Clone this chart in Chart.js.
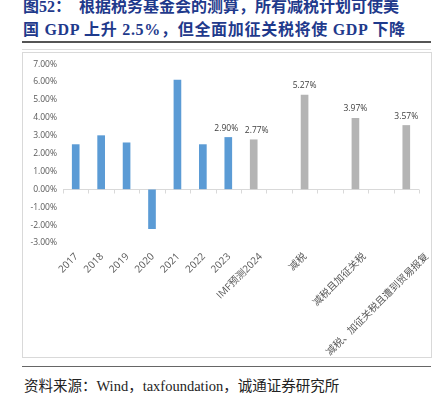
<!DOCTYPE html>
<html>
<head>
<meta charset="utf-8">
<script src="https://cdn.jsdelivr.net/npm/chart.js@4.4.1/dist/chart.umd.min.js"></script>
<style>
  html, body { margin: 0; padding: 0; background: #ffffff; }
  body { width: 443px; height: 393px; position: relative; overflow: hidden; }
  .title { position: absolute; left: 23px; font-family: "Liberation Serif", "Noto Sans CJK SC", serif; font-weight: bold; font-size: 16px; color: #1f3a8c; white-space: nowrap; }
  .line { position: absolute; left: 22px; width: 409px; }
  #box { position: absolute; left: 22px; top: 52px; width: 408px; height: 304px; border: 1px solid #d9d9d9; }
  .source { position: absolute; left: 24px; top: 374px; font-family: "Liberation Serif", "Noto Sans CJK SC", serif; font-size: 14.5px; color: #222; white-space: nowrap; }
</style>
</head>
<body>
<div class="title" style="top:-7px;">图52：&nbsp;&nbsp;根据税务基金会的测算，所有减税计划可使美</div>
<div class="title" style="top:16px;letter-spacing:0.7px;">国 GDP 上升 2.5%，但全面加征关税将使 GDP 下降</div>
<div class="line" style="top:41px;height:2px;background:#555;"></div>
<div class="line" style="top:49px;height:1px;background:#ddd;"></div>
<div id="box"><canvas id="c" width="408" height="304"></canvas></div>
<div class="line" style="top:366px;height:1px;background:#666;"></div>
<div class="source">资料来源：Wind，taxfoundation，诚通证券研究所</div>
<script>
const categories = ['2017','2018','2019','2020','2021','2022','2023','IMF预测2024','','减税','','减税且加征关税','','减税、加征关税且遭到贸易报复'];
const actualValues = [2.5, 3.0, 2.6, -2.2, 6.1, 2.5, 2.9, null, null, null, null, null, null, null];
const forecastValues = [null, null, null, null, null, null, null, 2.77, null, 5.27, null, 3.97, null, 3.57];
const labelledIndexes = [6, 7, 9, 11, 13];
const yTicks = { min: -3, max: 7, step: 1 };

const zeroTicks = {
  id: 'zeroTicks',
  afterDatasetsDraw(chart) {
    const ctx = chart.ctx, x = chart.scales.x, y = chart.scales.y;
    const y0 = Math.round(y.getPixelForValue(0)) + 0.5;
    ctx.save();
    ctx.strokeStyle = '#d9d9d9';
    ctx.lineWidth = 1;
    const n = categories.length;
    const w = (x.right - x.left) / n;
    ctx.beginPath();
    for (let i = 0; i <= n; i++) {
      const px = Math.round(x.left + i * w) + 0.5;
      ctx.moveTo(px, y0);
      ctx.lineTo(px, y0 + 4);
    }
    ctx.stroke();
    ctx.restore();
  }
};

// rotated category labels, drawn at the x scale's tick positions
const slantedLabels = {
  id: 'slantedLabels',
  afterDraw(chart) {
    const ctx = chart.ctx, x = chart.scales.x;
    ctx.save();
    ctx.font = '10px "Open Sans", "Noto Sans CJK SC", sans-serif';
    ctx.fillStyle = '#595959';
    ctx.textAlign = 'right';
    ctx.textBaseline = 'middle';
    categories.forEach((lab, i) => {
      if (!lab) return;
      const w = ctx.measureText(lab).width;
      const dx = Math.max(0, 0.17 * w - 3);
      const px = x.getPixelForValue(i) + dx;
      ctx.save();
      ctx.translate(px, x.top + 12);
      ctx.rotate(-Math.PI / 4);
      ctx.fillText(lab, 0, 0);
      ctx.restore();
    });
    ctx.restore();
  }
};

const valueLabels = {
  id: 'valueLabels',
  afterDatasetsDraw(chart) {
    const ctx = chart.ctx;
    ctx.save();
    ctx.font = '8.5px "Open Sans", "Noto Sans", sans-serif';
    ctx.fillStyle = '#404040';
    ctx.textAlign = 'center';
    ctx.textBaseline = 'bottom';
    chart.data.datasets.forEach((ds, di) => {
      const meta = chart.getDatasetMeta(di);
      labelledIndexes.forEach(i => {
        const v = ds.data[i];
        if (v === null || v === undefined) return;
        const el = meta.data[i];
        ctx.fillText(v.toFixed(2) + '%', el.x + (i === 7 ? 3 : (i === 6 ? -2 : 0)), el.y - 5);
      });
    });
    ctx.restore();
  }
};

new Chart(document.getElementById('c'), {
  type: 'bar',
  data: {
    labels: categories,
    datasets: [
      { data: actualValues, backgroundColor: '#5b9bd5', barThickness: 7, grouped: false },
      { data: forecastValues, backgroundColor: '#b4b4b4', barThickness: 7, grouped: false }
    ]
  },
  options: {
    responsive: false,
    animation: false,
    layout: { padding: { top: 4, right: 12, left: 0, bottom: 0 } },
    plugins: { legend: { display: false }, tooltip: { enabled: false } },
    scales: {
      x: {
        grid: { display: false, drawTicks: false },
        border: { display: false },
        ticks: { display: false },
        afterFit(scale) { scale.height = 114; }
      },
      y: {
        min: yTicks.min, max: yTicks.max,
        border: { display: false },
        grid: {
          drawTicks: false,
          color: ctx => (ctx.tick && ctx.tick.value === 0) ? '#d9d9d9' : 'rgba(0,0,0,0)'
        },
        ticks: {
          stepSize: yTicks.step,
          color: '#595959',
          padding: 6,
          font: { size: 8.5, family: '"Open Sans", "Noto Sans", sans-serif' },
          callback: v => v.toFixed(2) + '%'
        },
        afterFit(scale) { scale.width = 40; }
      }
    }
  },
  plugins: [zeroTicks, valueLabels, slantedLabels]
});
</script>
</body>
</html>
